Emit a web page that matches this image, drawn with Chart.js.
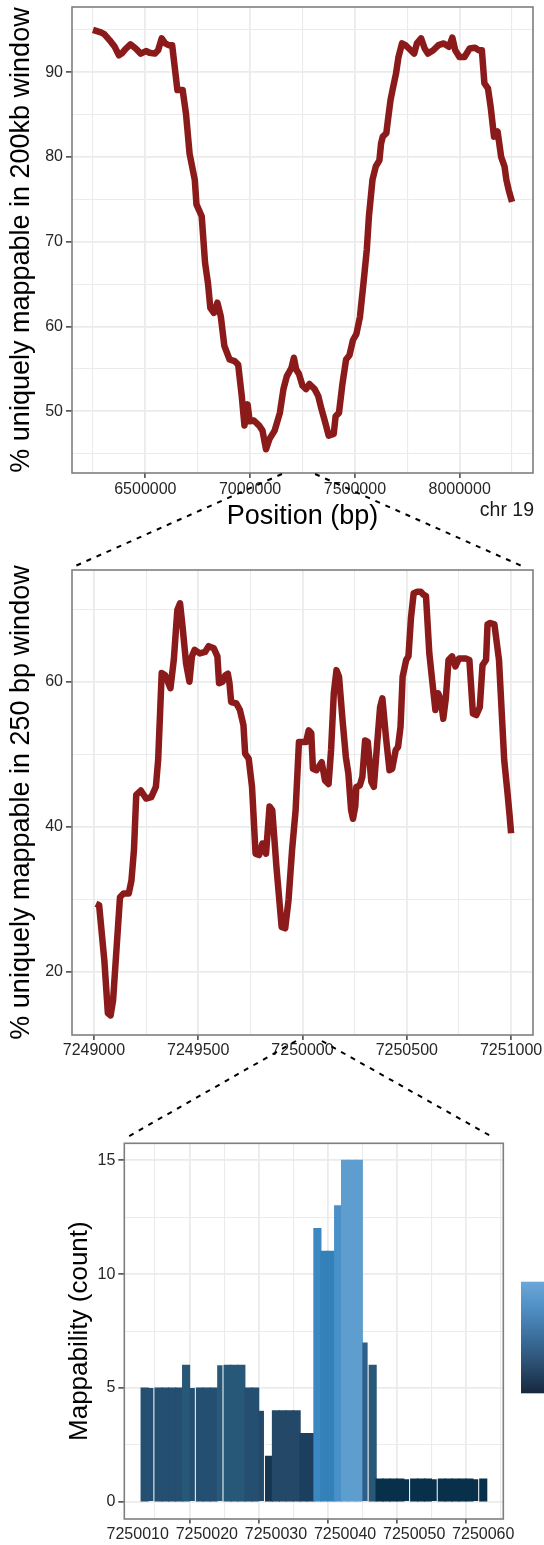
<!DOCTYPE html>
<html>
<head>
<meta charset="utf-8">
<title>chr19 mappability</title>
<script src="https://cdn.jsdelivr.net/npm/chart.js@4.4.1/dist/chart.umd.min.js"></script>
<style>
  html, body { margin: 0; padding: 0; background: #ffffff; }
  #page { position: relative; width: 544px; height: 1545px; overflow: hidden; }
  #page canvas { position: absolute; left: 0; }
</style>
</head>
<body>
<div id="page">
  <canvas id="wide" width="544" height="540" style="top:0px"></canvas>
  <canvas id="zoom" width="544" height="545" style="top:545px"></canvas>
  <canvas id="bars" width="544" height="455" style="top:1090px"></canvas>
  <canvas id="links" width="544" height="1545" style="top:0px; pointer-events:none"></canvas>
</div>
<script>
// ---- data ----

// % uniquely mappable, 200kb windows along chr 19
const wideX = [6250000, 6288000, 6304000, 6329000, 6354000, 6374000, 6387000, 6404000, 6429000, 6454000,
  6478000, 6503000, 6520000, 6545000, 6561000, 6578000, 6595000, 6611000, 6628000, 6644000,
  6653000, 6678000, 6694000, 6711000, 6736000, 6744000, 6769000, 6785000, 6799000, 6810000,
  6827000, 6844000, 6860000, 6877000, 6902000, 6926000, 6943000, 6960000, 6973000, 6988000,
  6998000, 7018000, 7043000, 7059000, 7076000, 7092000, 7117000, 7142000, 7159000, 7175000,
  7197000, 7209000, 7220000, 7233000, 7250000, 7267000, 7283000, 7308000, 7325000, 7341000,
  7358000, 7375000, 7399000, 7408000, 7424000, 7441000, 7458000, 7474000, 7491000, 7507000,
  7524000, 7541000, 7557000, 7567000, 7584000, 7600000, 7617000, 7625000, 7633000, 7650000,
  7658000, 7670000, 7683000, 7696000, 7708000, 7725000, 7741000, 7758000, 7783000, 7796000,
  7816000, 7833000, 7849000, 7874000, 7899000, 7924000, 7949000, 7965000, 7979000, 7999000,
  8023000, 8048000, 8073000, 8090000, 8106000, 8118000, 8135000, 8148000, 8164000, 8181000,
  8198000, 8214000, 8223000, 8234000, 8250000];
const wideY = [95.0, 94.7, 94.5, 93.8, 93.0, 92.0, 92.2, 92.7, 93.3, 92.8,
  92.2, 92.5, 92.3, 92.2, 92.6, 94.0, 93.4, 93.2, 93.2, 89.8,
  87.9, 87.9, 85.1, 80.4, 77.3, 74.4, 73.0, 67.5, 65.1, 62.2,
  61.6, 62.8, 61.2, 57.7, 56.1, 55.9, 55.5, 51.8, 48.3, 50.8,
  48.8, 48.9, 48.3, 47.7, 45.5, 46.7, 47.7, 49.8, 52.6, 54.1,
  55.1, 56.3, 54.9, 54.4, 53.0, 52.6, 53.2, 52.6, 51.8, 50.2,
  48.7, 47.1, 47.3, 49.4, 49.8, 53.3, 56.1, 56.6, 58.4, 59.1,
  61.1, 65.1, 69.1, 73.0, 77.3, 78.9, 79.6, 81.6, 82.4, 82.8,
  84.4, 86.7, 88.3, 89.8, 91.8, 93.4, 93.2, 92.8, 92.2, 93.4,
  94.0, 92.8, 92.2, 92.6, 93.2, 93.4, 93.0, 94.1, 92.6, 91.8,
  91.8, 92.8, 92.9, 92.6, 92.6, 88.7, 88.1, 85.9, 82.4, 83.0,
  80.0, 78.9, 77.3, 76.1, 74.7];

// % uniquely mappable, 250 bp windows
const zoomX = [7249010, 7249025, 7249050, 7249067, 7249080, 7249092, 7249108, 7249125, 7249142, 7249167,
  7249180, 7249192, 7249203, 7249225, 7249250, 7249275, 7249297, 7249308, 7249325, 7249342,
  7249367, 7249383, 7249400, 7249413, 7249425, 7249442, 7249458, 7249470, 7249483, 7249508,
  7249533, 7249550, 7249575, 7249592, 7249600, 7249617, 7249630, 7249642, 7249650, 7249658,
  7249683, 7249700, 7249717, 7249725, 7249742, 7249758, 7249775, 7249792, 7249808, 7249825,
  7249842, 7249855, 7249875, 7249900, 7249917, 7249933, 7249950, 7249967, 7249983, 7250000,
  7250017, 7250030, 7250042, 7250050, 7250067, 7250092, 7250108, 7250125, 7250137, 7250150,
  7250163, 7250175, 7250192, 7250208, 7250220, 7250233, 7250242, 7250253, 7250258, 7250275,
  7250287, 7250300, 7250313, 7250330, 7250342, 7250358, 7250372, 7250383, 7250400, 7250417,
  7250430, 7250447, 7250458, 7250470, 7250480, 7250497, 7250508, 7250520, 7250533, 7250550,
  7250567, 7250580, 7250592, 7250608, 7250625, 7250637, 7250650, 7250663, 7250675, 7250687,
  7250700, 7250717, 7250733, 7250750, 7250783, 7250800, 7250817, 7250833, 7250850, 7250863,
  7250880, 7250887, 7250900, 7250920, 7250942, 7250967, 7250983, 7250993, 7251000];
const zoomY = [29.4, 29.2, 21.6, 14.3, 14.0, 16.1, 23.0, 30.3, 30.8, 30.8,
  32.6, 36.8, 44.4, 45.0, 43.9, 44.1, 45.5, 49.2, 61.2, 60.9,
  59.1, 63.0, 69.9, 70.8, 67.6, 62.5, 60.0, 63.5, 64.4, 63.9,
  64.1, 64.9, 64.6, 63.5, 59.8, 60.0, 60.9, 61.1, 59.8, 57.2,
  57.0, 56.1, 54.0, 50.1, 49.4, 45.5, 36.3, 36.1, 37.7, 36.3,
  42.8, 42.3, 34.5, 26.2, 26.0, 29.9, 36.8, 42.3, 51.7, 51.7,
  51.7, 53.3, 52.9, 48.0, 47.8, 48.9, 46.4, 45.9, 50.6, 58.4,
  61.6, 60.7, 54.7, 49.6, 47.3, 42.3, 41.1, 42.8, 45.5, 45.7,
  46.9, 51.9, 51.7, 46.2, 45.5, 51.5, 56.5, 57.7, 52.4, 47.8,
  48.0, 50.6, 51.0, 53.8, 60.7, 63.0, 63.5, 68.8, 72.2, 72.4,
  72.4, 72.0, 71.8, 63.9, 59.3, 56.1, 58.4, 57.5, 54.9, 57.7,
  63.0, 63.5, 62.1, 63.2, 63.2, 63.0, 55.6, 55.4, 56.5, 62.3,
  63.0, 67.9, 68.1, 67.9, 63.0, 49.2, 44.6, 41.5, 39.1];

// per-base mappability counts
const basePos = [7250011, 7250012, 7250013, 7250014, 7250015, 7250016, 7250017, 7250018, 7250019, 7250020,
  7250021, 7250022, 7250023, 7250024, 7250025, 7250026, 7250027, 7250028, 7250029, 7250030,
  7250031, 7250032, 7250033, 7250034, 7250035, 7250036, 7250037, 7250038, 7250039, 7250040,
  7250041, 7250042, 7250043, 7250044, 7250045, 7250046, 7250047, 7250048, 7250049, 7250050,
  7250051, 7250052, 7250053, 7250054, 7250055, 7250056, 7250057, 7250058, 7250059, 7250060];
const baseCount = [5, 5, 5, 5, 5, 5, 6, 5, 5, 5,
  5, 6, 6, 6, 6, 5, 5, 4, 2, 4,
  4, 4, 4, 3, 3, 12, 11, 11, 13, 15,
  15, 15, 7, 6, 1, 1, 1, 1, 1, 1,
  1, 1, 1, 1, 1, 1, 1, 1, 1, 1];
// bases followed by a thin white split in the original plot
const splitAfter = [7250012, 7250018, 7250022, 7250028, 7250043, 7250049, 7250053, 7250059];

// tick positions (labelled ones are the major grid lines)
const wideXTicks = [6250000, 6500000, 6750000, 7000000, 7250000, 7500000, 7750000, 8000000, 8250000];
const wideXLabels = [6500000, 7000000, 7500000, 8000000];
const wideYTicks = [45, 50, 55, 60, 65, 70, 75, 80, 85, 90, 95];
const wideYLabels = [50, 60, 70, 80, 90];
const zoomXTicks = [7249000, 7249250, 7249500, 7249750, 7250000, 7250250, 7250500, 7250750, 7251000];
const zoomXLabels = [7249000, 7249500, 7250000, 7250500, 7251000];
const zoomYTicks = [20, 30, 40, 50, 60, 70];
const zoomYLabels = [20, 40, 60];
const barXTicks = [7250010, 7250015, 7250020, 7250025, 7250030, 7250035, 7250040, 7250045, 7250050, 7250055, 7250060];
const barXLabels = [7250010, 7250020, 7250030, 7250040, 7250050, 7250060];
const barYTicks = [0, 2.5, 5, 7.5, 10, 12.5, 15];
const barYLabels = [0, 5, 10, 15];

// where the dashed zoom guides attach (axis values)
const wideGuide = [7152000, 7310000];
const zoomGuideEnds = [7248900, 7251062];
const zoomGuide = [7249969, 7250093];
const barGuideEnds = [7250008.45, 7250061.4];

// ---- styling ----
const FONT = "'Liberation Sans', Arial, Helvetica, sans-serif";
const LINE_RED = "#8B1A1A";
const fillByCount = { 1: "#08304A", 2: "#163550", 3: "#1C3F5F", 4: "#234868", 5: "#254F71",
  6: "#285878", 7: "#2E5F89", 11: "#3480B9", 12: "#3B87C2", 13: "#4990C8", 15: "#5E9ECF" };

Chart.defaults.font.family = FONT;

// ggplot-like panel border
const panelFrame = {
  id: "panelFrame",
  afterDraw(chart) {
    const { ctx, chartArea: a } = chart;
    ctx.save();
    ctx.strokeStyle = "#7F7F7F";
    ctx.lineWidth = 1.6;
    ctx.strokeRect(a.left, a.top, a.right - a.left, a.bottom - a.top);
    ctx.restore();
  }
};

function axis(range, ticks, labelled, size, tick, title) {
  return {
    type: "linear",
    min: range[0],
    max: range[1],
    afterBuildTicks: s => { s.ticks = ticks.map(v => ({ value: v })); },
    afterFit: s => {
      Object.assign(s, size);
      s.paddingTop = s.paddingBottom = s.paddingLeft = s.paddingRight = 0;
    },
    border: { display: false },
    grid: {
      color: "#EBEBEB",
      lineWidth: c => (c.tick && labelled.includes(c.tick.value)) ? 1.8 : 1.1,
      tickColor: c => (c.tick && labelled.includes(c.tick.value)) ? "#333333" : "rgba(0,0,0,0)",
      tickLength: tick.length,
      tickWidth: 1.4
    },
    ticks: {
      autoSkip: false,
      maxRotation: 0,
      padding: tick.padding,
      color: "#262626",
      font: { family: FONT, size: 16 },
      callback: v => labelled.includes(v) ? String(v) : ""
    },
    title: title || { display: false }
  };
}

function yTitle(text, size, pad) {
  return { display: true, text: text, color: "#000000", font: { family: FONT, size: size }, padding: { top: pad, bottom: 0 } };
}

function lineChart(id, xs, ys, opts) {
  return new Chart(document.getElementById(id), {
    type: "line",
    data: {
      datasets: [{
        data: xs.map((x, i) => ({ x: x, y: ys[i] })),
        borderColor: LINE_RED,
        borderWidth: 6.5,
        borderJoinStyle: "round",
        borderCapStyle: "butt",
        pointRadius: 0,
        tension: 0
      }]
    },
    options: {
      responsive: false,
      animation: false,
      devicePixelRatio: 1,
      layout: { padding: opts.padding },
      plugins: { legend: { display: false }, tooltip: { enabled: false } },
      scales: { x: opts.x, y: opts.y }
    },
    plugins: [panelFrame].concat(opts.plugins || [])
  });
}

// "chr 19" tag under the first panel
const chrTag = {
  id: "chrTag",
  afterDraw(chart) {
    const { ctx, chartArea } = chart;
    ctx.save();
    ctx.font = "19.5px " + FONT;
    ctx.fillStyle = "#1A1A1A";
    ctx.textAlign = "right";
    ctx.textBaseline = "alphabetic";
    ctx.fillText("chr 19", chartArea.right + 1, chartArea.bottom + 43);
    ctx.restore();
  }
};

const wideChart = lineChart("wide", wideX, wideY, {
  padding: { top: 7, right: 11, left: 0, bottom: 0 },
  x: axis([6150000, 8350000], wideXTicks, wideXLabels, { height: 67 }, { length: 5, padding: 1.7 },
    { display: true, text: "Position (bp)", color: "#000000", font: { family: FONT, size: 27 }, padding: { top: 0, bottom: 6.8 } }),
  y: axis([42.7, 97.7], wideYTicks, wideYLabels, { width: 72 }, { length: 6, padding: 3 },
    yTitle("% uniquely mappable in 200kb window", 27, 5.8)),
  plugins: [chrTag]
});

const zoomChart = lineChart("zoom", zoomX, zoomY, {
  padding: { top: 25, right: 11, left: 0, bottom: 0 },
  x: axis([7248895, 7251105], zoomXTicks, zoomXLabels, { height: 55 }, { length: 5, padding: 1.4 }),
  y: axis([11.3, 75.4], zoomYTicks, zoomYLabels, { width: 72 }, { length: 6, padding: 3 },
    yTitle("% uniquely mappable in 250 bp window", 27, 5.8))
});

// colour bar of the fill legend (cut by the figure edge)
const colourBar = {
  id: "colourBar",
  afterDraw(chart) {
    const { ctx, chartArea: a } = chart;
    const x = a.right + 17.7, top = a.top + 138.4, h = 111.6;
    const g = ctx.createLinearGradient(0, top, 0, top + h);
    g.addColorStop(0, "#6BA8D8");
    g.addColorStop(0.25, "#4E8DC2");
    g.addColorStop(0.5, "#3B6E9C");
    g.addColorStop(0.75, "#2A4D6E");
    g.addColorStop(1, "#16283E");
    ctx.save();
    ctx.fillStyle = g;
    ctx.fillRect(x, top, 40, h);
    ctx.restore();
  }
};

const barChart = new Chart(document.getElementById("bars"), {
  type: "bar",
  data: {
    datasets: [{
      data: basePos.map((p, i) => ({ x: p, y: baseCount[i] })),
      backgroundColor: c => fillByCount[c.raw.y],
      borderColor: "#FFFFFF",
      borderWidth: c => splitAfter.includes(c.raw.x) ? { top: 0, right: 2.2, bottom: 0, left: 0 } : 0,
      borderSkipped: false,
      inflateAmount: 0.6,
      barPercentage: 1,
      categoryPercentage: 1
    }]
  },
  options: {
    responsive: false,
    animation: false,
    devicePixelRatio: 1,
    layout: { padding: { top: 53.3, right: 40.7, left: 0, bottom: 0 } },
    plugins: { legend: { display: false }, tooltip: { enabled: false } },
    scales: {
      x: Object.assign(axis([7250008.06, 7250062.9], barXTicks, barXLabels, { height: 26 }, { length: 4.5, padding: 1 }), { offset: false }),
      y: axis([-0.75, 15.75], barYTicks, barYLabels, { width: 124.3 }, { length: 6, padding: 3 },
        yTitle("Mappability (count)", 26, 63.8))
    }
  },
  plugins: [panelFrame, colourBar]
});

// dashed guides linking each panel to the zoomed one below
function drawGuides() {
  const ctx = document.getElementById("links").getContext("2d");
  const px = (chart, v) => chart.scales.x.getPixelForValue(v);
  const zoomTop = 545, barTop = 1090;
  ctx.strokeStyle = "#000000";
  ctx.lineWidth = 2;
  ctx.setLineDash([5, 6]);
  function seg(x1, y1, x2, y2) {
    ctx.beginPath();
    ctx.moveTo(x1, y1);
    ctx.lineTo(x2, y2);
    ctx.stroke();
  }
  const y1 = wideChart.chartArea.bottom + 1;
  const y2 = zoomTop + zoomChart.chartArea.top - 3;
  seg(px(wideChart, wideGuide[0]), y1, px(zoomChart, zoomGuideEnds[0]), y2);
  seg(px(wideChart, wideGuide[1]), y1, px(zoomChart, zoomGuideEnds[1]), y2);
  const y3 = zoomTop + zoomChart.chartArea.bottom + 6;
  const y4 = barTop + barChart.chartArea.top - 6;
  seg(px(zoomChart, zoomGuide[0]), y3, px(barChart, barGuideEnds[0]), y4);
  seg(px(zoomChart, zoomGuide[1]), y3, px(barChart, barGuideEnds[1]), y4);
}
drawGuides();
</script>
</body>
</html>
